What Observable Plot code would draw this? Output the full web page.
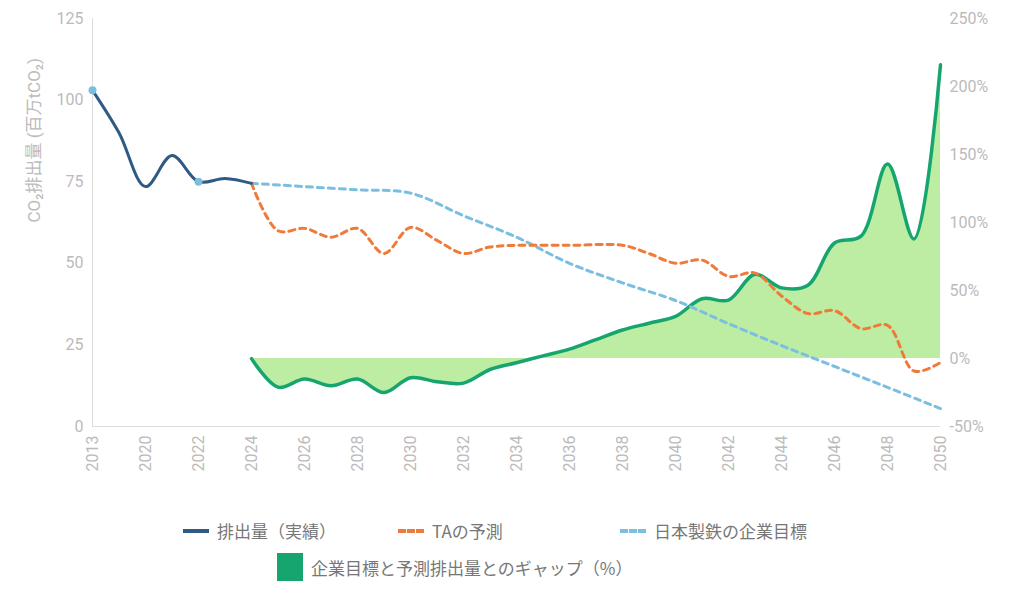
<!DOCTYPE html><html><head><meta charset="utf-8">
<script src="https://cdn.jsdelivr.net/npm/d3@7"></script>
<script src="https://cdn.jsdelivr.net/npm/@observablehq/plot@0.6"></script>
<style>body{margin:0;background:#fff;font-family:"Noto Sans CJK JP",Roboto,sans-serif}
.leg{position:absolute;font-size:17px;color:#777;display:flex;align-items:center;gap:8px}
</style></head><body><div id="c"></div>
<div class="leg" style="left:183px;top:518px"><span style="width:26px;height:4px;background:#2e5a83;display:inline-block"></span>排出量（実績）</div>
<div class="leg" style="left:398px;top:518px"><span style="width:26px;border-top:4px dashed #f07a3a;display:inline-block"></span>TAの予測</div>
<div class="leg" style="left:620px;top:518px"><span style="width:26px;border-top:4px dashed #7bbfe0;display:inline-block"></span>日本製鉄の企業目標</div>
<div class="leg" style="left:277px;top:553px"><span style="width:26px;height:28px;background:#17a56f;display:inline-block"></span>企業目標と予測排出量とのギャップ（%）</div>
<script>
const tickYears=[2013,2020,2022,2024,2026,2028,2030,2032,2034,2036,2038,2040,2042,2044,2046,2048,2050];
const actualYears=[2013,2016.5,2020,2021,2022,2023,2024];
const actualVals=[103,90,73.5,83,75,76,74.5];
const dotYears=[2013,2022], dotVals=[103,75];
const taYears=[2024,2025,2026,2027,2028,2029,2030,2031,2032,2033,2034,2036,2038,2039,2040,2041,2042,2043,2044,2045,2046,2047,2048,2049,2050];
const taVals=[74.5,60,60.7,58,60.7,53,61,57,53,55,55.5,55.5,55.5,53,50,51,46,47,40,34.6,35.5,30,31,17,19.6];
const nsYears=[2024,2026,2028,2030,2032,2034,2036,2038,2040,2042,2044,2046,2048,2050];
const nsVals=[74.5,73.5,72.5,71.5,64.6,58,50,44,38.6,31.5,24.8,18.4,12,5.5];
const gapYears=d3.range(2024,2051);
const gapPct=[0,-21,-15,-20,-15,-25,-14,-17,-18,-8,-3,2,7,14,21,26,31,44,43,62,52,54,85,90,143,88,216];
const pctTicks=[-50,0,50,100,150,200,250];
const leftTicks=[0,25,50,75,100,125];
const idx=y=>y<2020?(y-2013)/7:1+(y-2020)/2;
const yearOf=x=>tickYears.find(y=>Math.abs(idx(y)-x)<1e-6);
const P=p=>20.8+p*0.4168;
const pctOf=v=>pctTicks.find(p=>Math.abs(P(p)-v)<1e-6);
const pts=(ys,vs)=>ys.map((y,i)=>({x:idx(y),y:vs[i]}));
const gap=gapYears.map((y,i)=>({x:idx(y),y:P(gapPct[i]),b:P(0)}));
const gray="#bbb";
const chart=Plot.plot({width:1024,height:480,marginLeft:92,marginRight:84,marginTop:18,marginBottom:54,
 style:{fontSize:"16px",color:gray,fontFamily:"Roboto,'Noto Sans CJK JP',sans-serif"},
 x:{domain:[0,16],label:null},
 y:{domain:[0,125],label:null},
 marks:[
  Plot.areaY(gap,{x:"x",y1:"b",y2:"y",fill:"#bcedA3",curve:"catmull-rom"}),
  Plot.ruleX([0],{stroke:"#ddd"}),
  Plot.ruleY([0],{stroke:"#ddd"}),
  Plot.axisX(tickYears.map(idx),{tickFormat:x=>String(yearOf(x)),tickRotate:-90,tickSize:0,label:null}),
  Plot.axisY(leftTicks,{anchor:"left",tickFormat:d=>String(d),tickSize:0,label:null}),
  Plot.axisY(pctTicks.map(P),{anchor:"right",tickFormat:v=>pctOf(v)+"%",tickSize:0,label:null}),
  Plot.text(["CO₂排出量 (百万tCO₂)"],{frameAnchor:"left",dx:-58,rotate:-90,fill:gray,fontSize:17}),
  Plot.line(gap,{x:"x",y:"y",stroke:"#17a56f",strokeWidth:3.5,curve:"catmull-rom"}),
  Plot.line(pts(nsYears,nsVals),{x:"x",y:"y",stroke:"#7bbfe0",strokeWidth:3,strokeDasharray:"6,5",curve:"catmull-rom"}),
  Plot.line(pts(taYears,taVals),{x:"x",y:"y",stroke:"#f07a3a",strokeWidth:3,strokeDasharray:"6,5",curve:"catmull-rom"}),
  Plot.line(pts(actualYears,actualVals),{x:"x",y:"y",stroke:"#2e5a83",strokeWidth:3,curve:"catmull-rom"}),
  Plot.dot(pts(dotYears,dotVals),{x:"x",y:"y",fill:"#7bbfe0",r:4})
 ]});
document.getElementById("c").appendChild(chart);
</script></body></html>
